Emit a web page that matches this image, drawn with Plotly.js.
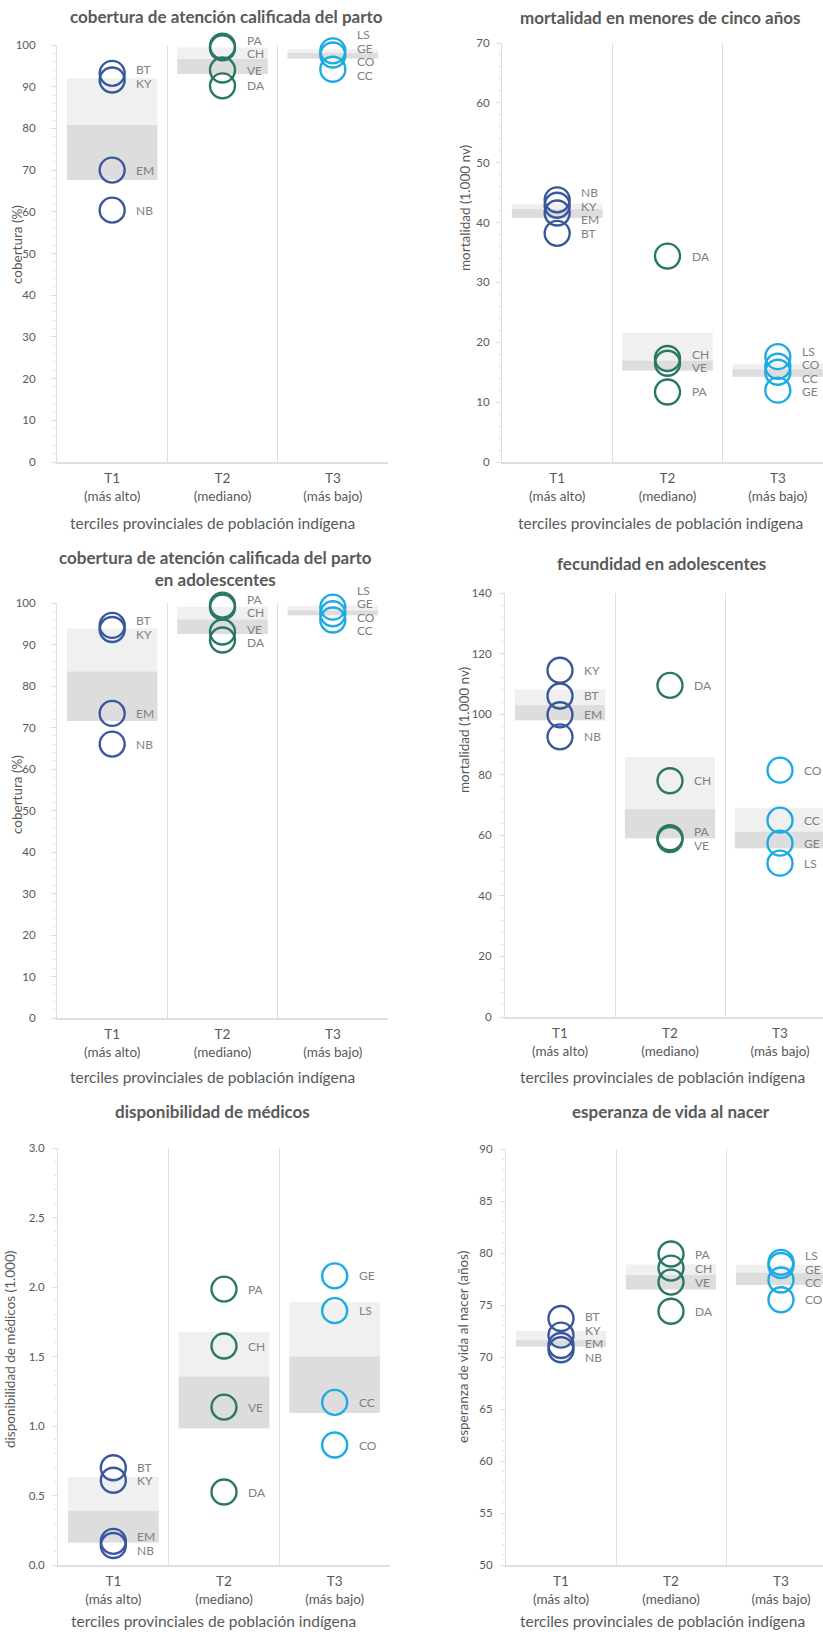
<!DOCTYPE html>
<html><head><meta charset="utf-8">
<script src="https://cdn.plot.ly/plotly-3.0.1.min.js"></script>
<style>html,body{margin:0;padding:0;overflow:hidden;background:#fff}#chart{width:850px;height:1634px}</style>
</head><body><div id="chart"></div>
<script>
// ---------- DATA ----------
const tercileLabels = ['T1<br>(más alto)', 'T2<br>(mediano)', 'T3<br>(más bajo)'];
const codesT1 = ['BT', 'KY', 'EM', 'NB'];
const codesT2 = ['PA', 'CH', 'VE', 'DA'];
const codesT3 = ['LS', 'GE', 'CO', 'CC'];

// cobertura de atención calificada del parto (%)
const partoT1 = [93.2, 91.6, 70.0, 60.4];
const partoT2 = [99.7, 99.3, 94.0, 90.2];
const partoT3 = [100.2, 98.6, 97.6, 94.2];
// mortalidad en menores de cinco años (1.000 nv)
const mort5T1 = [38.2, 42.9, 41.6, 43.8];
const mort5T2 = [11.7, 17.3, 16.5, 34.4];
const mort5T3 = [17.6, 12.0, 16.0, 15.0];
// cobertura parto en adolescentes (%)
const adolT1 = [94.6, 93.6, 73.4, 66.0];
const adolT2 = [99.5, 99.0, 93.0, 91.1];
const adolT3 = [100.3, 99.0, 97.4, 95.9];
// fecundidad en adolescentes
const fecT1 = [106.0, 114.5, 99.8, 92.5];
const fecT2 = [59.2, 78.0, 58.6, 109.5];
const fecT3 = [50.8, 57.4, 81.5, 65.0];
// disponibilidad de médicos (1.000)
const medT1 = [0.70, 0.61, 0.17, 0.14];
const medT2 = [1.985, 1.575, 1.136, 0.525];
const medT3 = [1.83, 2.08, 0.863, 1.17];
// esperanza de vida al nacer (años)
const evT1 = [73.7, 72.1, 71.1, 70.7];
const evT2 = [79.9, 78.55, 77.2, 74.4];
const evT3 = [79.1, 78.8, 75.5, 77.4];

// ---------- STYLE / LAYOUT ----------
const W = 850, H = 1634;
const FONT = 'Lato, "Open Sans", sans-serif';
const TXT = '#595959', LBL = '#808080', GRID = '#dedede';
const COLORS = ['#3a579e', '#2b7766', '#1cabe2'];
const BOX_LIGHT = '#f0f0f0', BOX_DARK = '#dddddd';

const panels = [
  {title: 'cobertura de atención calificada del parto', titleX: 226, titleY: 17,
   ytitle: 'cobertura (%)', ytX: 17, ytY: 245, xtX: 212, xtY: 523,
   sets: [partoT1, partoT2, partoT3], range: [0, 100], dtick: 10, fmt: '',
   dom: [57, 388], top: 45, bot: 462, stand: 13},
  {title: 'mortalidad en menores de cinco años', titleX: 660, titleY: 18,
   ytitle: 'mortalidad (1.000 nv)', ytX: 465, ytY: 208, xtX: 660, xtY: 523,
   sets: [mort5T1, mort5T2, mort5T3], range: [0, 70], dtick: 10, fmt: '',
   dom: [502, 833], top: 43, bot: 462, stand: 4},
  {title: 'cobertura de atención calificada del parto<br>en adolescentes', titleX: 216, titleY: 568,
   ytitle: 'cobertura (%)', ytX: 17, ytY: 795, xtX: 212, xtY: 1077,
   sets: [adolT1, adolT2, adolT3], range: [0, 100], dtick: 10, fmt: '',
   dom: [57, 388], top: 603, bot: 1018, stand: 13},
  {title: 'fecundidad en adolescentes', titleX: 661, titleY: 563,
   ytitle: 'mortalidad (1.000 nv)', ytX: 464, ytY: 730, xtX: 662, xtY: 1077,
   sets: [fecT1, fecT2, fecT3], range: [0, 140], dtick: 20, fmt: '',
   dom: [505, 835], top: 593, bot: 1017, stand: 5},
  {title: 'disponibilidad de médicos', titleX: 212, titleY: 1111,
   ytitle: 'disponibilidad de médicos (1.000)', ytX: 10, ytY: 1350, xtX: 213, xtY: 1621,
   sets: [medT1, medT2, medT3], range: [0, 3], dtick: 0.5, fmt: '.1f',
   dom: [58, 390], top: 1148, bot: 1565, stand: 5},
  {title: 'esperanza de vida al nacer', titleX: 671, titleY: 1111,
   ytitle: 'esperanza de vida al nacer (años)', ytX: 463, ytY: 1347, xtX: 662, xtY: 1621,
   sets: [evT1, evT2, evT3], range: [50, 90], dtick: 5, fmt: '',
   dom: [506, 836], top: 1149, bot: 1565, stand: 5}
];
const codeSets = [codesT1, codesT2, codesT3];

function quartileInc(arr, q) {
  const s = arr.slice().sort((a, b) => a - b);
  const pos = (s.length - 1) * q, lo = Math.floor(pos), hi = Math.ceil(pos);
  return s[lo] + (s[hi] - s[lo]) * (pos - lo);
}

function spread(ys, gap) {
  let clusters = ys.map((y, i) => ({idx: [i], mean: y}));
  let changed = true;
  while (changed) {
    changed = false;
    for (let i = 0; i < clusters.length - 1; i++) {
      const a = clusters[i], b = clusters[i + 1];
      const aEnd = a.mean + (a.idx.length - 1) * gap / 2;
      const bStart = b.mean - (b.idx.length - 1) * gap / 2;
      if (bStart - aEnd < gap) {
        const idx = a.idx.concat(b.idx);
        const mean = idx.reduce((s, k) => s + ys[k], 0) / idx.length;
        clusters.splice(i, 2, {idx, mean});
        changed = true; break;
      }
    }
  }
  const out = [];
  clusters.forEach(c => c.idx.forEach((k, j) => { out[k] = c.mean + (j - (c.idx.length - 1) / 2) * gap; }));
  return out;
}

const traces = [], annotations = [];
const layout = {
  width: W, height: H, margin: {l: 0, r: 0, t: 0, b: 0},
  paper_bgcolor: '#fff', plot_bgcolor: 'rgba(0,0,0,0)',
  barmode: 'overlay', showlegend: false,
  font: {family: FONT, color: TXT},
  annotations
};
const px2x = p => p / W, px2y = p => 1 - p / H;

panels.forEach((p, n) => {
  const k = n + 1, xa = 'x' + k, ya = 'y' + k;
  const q1 = p.sets.map(s => quartileInc(s, 0.25));
  const md = p.sets.map(s => quartileInc(s, 0.5));
  const q3 = p.sets.map(s => quartileInc(s, 0.75));
  traces.push({type: 'bar', x: [0, 1, 2], base: q1, y: q3.map((v, i) => v - q1[i]), width: 0.82,
    marker: {color: BOX_LIGHT, line: {width: 0}}, xaxis: xa, yaxis: ya, hoverinfo: 'skip'});
  traces.push({type: 'bar', x: [0, 1, 2], base: q1, y: md.map((v, i) => v - q1[i]), width: 0.82,
    marker: {color: BOX_DARK, line: {width: 0}}, xaxis: xa, yaxis: ya, hoverinfo: 'skip'});
  const pxPerUnit = (p.bot - p.top) / (p.range[1] - p.range[0]);
  p.sets.forEach((vals, t) => {
    traces.push({type: 'scatter', mode: 'markers', x: vals.map(() => t), y: vals,
      text: codeSets[t], xaxis: xa, yaxis: ya, cliponaxis: false,
      marker: {symbol: 'circle-open', size: 25, color: COLORS[t], line: {width: 2.4}},
      hovertemplate: '%{text}: %{y}<extra></extra>'});
    // labels with de-overlap
    const order = vals.map((v, i) => i).sort((a, b) => vals[b] - vals[a]);
    const ys = order.map(i => (p.range[1] - vals[i]) * pxPerUnit);
    const placed = spread(ys, 13.5);
    order.forEach((i, j) => {
      const v = vals[i];
      const anchorY = Math.min(Math.max(v, p.range[0]), p.range[1]);
      const extra = (v - anchorY) * pxPerUnit;
      annotations.push({xref: xa, yref: ya, x: t, y: anchorY, xanchor: 'left', yanchor: 'middle',
        xshift: 22, yshift: extra - (placed[j] - ys[j]), showarrow: false, text: codeSets[t][i],
        font: {family: FONT, size: 12, color: LBL}});
    });
  });
  layout['xaxis' + (k === 1 ? '' : k)] = {
    domain: [px2x(p.dom[0]), px2x(p.dom[1])], anchor: ya, range: [-0.5, 2.5],
    tickmode: 'array', tickvals: [0, 1, 2], ticktext: tercileLabels, ticks: '',
    tickfont: {family: FONT, size: 13.5, color: TXT}, ticklabelstandoff: 3,
    showline: true, linecolor: GRID, linewidth: 2, showgrid: false, zeroline: false,
    minor: {tickmode: 'array', tickvals: [0.5, 1.5, 2.5], showgrid: true, gridcolor: GRID, gridwidth: 1.2, ticks: ''},
    fixedrange: true
  };
  layout['yaxis' + (k === 1 ? '' : k)] = {
    domain: [px2y(p.bot), px2y(p.top)], anchor: xa, range: p.range, dtick: p.dtick, tick0: 0,
    tickformat: p.fmt, ticks: 'outside', ticklen: 5, tickcolor: GRID, tickwidth: 1,
    tickfont: {family: FONT, size: 11.5, color: TXT}, ticklabelstandoff: p.stand,
    showline: true, linecolor: GRID, linewidth: 1, showgrid: false, zeroline: false,
    minor: {ticks: 'outside', ticklen: 3, dtick: p.dtick / 5, tickcolor: '#e6e6e6'},
    fixedrange: true
  };
  annotations.push({xref: 'paper', yref: 'paper', x: px2x(p.titleX), y: px2y(p.titleY), xanchor: 'center', yanchor: 'middle',
    showarrow: false, text: '<b>' + p.title.replace('<br>', '</b><br><b>') + '</b>', font: {family: FONT, size: 17, color: TXT}});
  annotations.push({xref: 'paper', yref: 'paper', x: px2x(p.ytX), y: px2y(p.ytY), xanchor: 'center', yanchor: 'middle',
    textangle: -90, showarrow: false, text: p.ytitle, font: {family: FONT, size: 13.5, color: TXT}});
  annotations.push({xref: 'paper', yref: 'paper', x: px2x(p.xtX), y: px2y(p.xtY), xanchor: 'center', yanchor: 'middle',
    showarrow: false, text: 'terciles provinciales de población indígena', font: {family: FONT, size: 15.5, color: TXT}});
});

Plotly.newPlot('chart', traces, layout, {displayModeBar: false});
</script>
</body></html>
